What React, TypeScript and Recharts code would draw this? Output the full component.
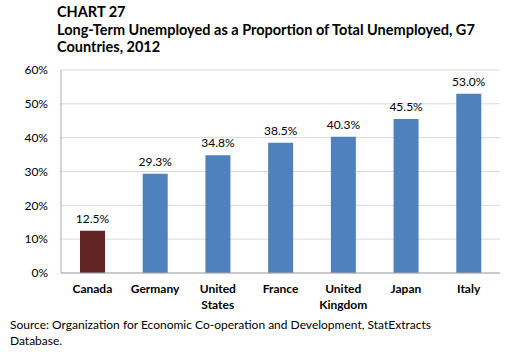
import React from "react";
import { BarChart, Bar, XAxis, YAxis, CartesianGrid, Cell, LabelList } from "recharts";

const countries = ["Canada", "Germany", "United States", "France", "United Kingdom", "Japan", "Italy"];
const shares = [12.5, 29.3, 34.8, 38.5, 40.3, 45.5, 53.0];
const yTicks = [0, 10, 20, 30, 40, 50, 60];
const highlight = "Canada";

const data = countries.map((c, i) => ({ country: c, value: shares[i] }));

const FONT = "Lato, 'Noto Sans', sans-serif";

const XTick = (props: any) => {
  const { x, y, payload } = props;
  const words: string[] = String(payload.value).split(" ");
  return (
    <text x={x} y={y} textAnchor="middle" fill="#000" fontSize={12} fontFamily={FONT} fontWeight={700}>
      {words.map((w, i) => (
        <tspan key={i} x={x} dy={i === 0 ? 12 : 16}>
          {w}
        </tspan>
      ))}
    </text>
  );
};

export default function App() {
  return (
    <div style={{ position: "absolute", left: 0, top: 0, width: 509, height: 352, background: "#fff", fontFamily: FONT }}>
      <div style={{ position: "absolute", left: 57, top: 3, fontWeight: 700, fontSize: 14.5, lineHeight: "17.5px", color: "#000", width: 450 }}>
        CHART 27
        <br />
        Long-Term Unemployed as a Proportion of Total Unemployed, G7
        <br />
        Countries, 2012
      </div>
      <div style={{ position: "absolute", left: 10, top: 317, fontSize: 12, lineHeight: "16px", color: "#000", width: 495 }}>
        Source: Organization for Economic Co-operation and Development, StatExtracts
        <br />
        Database.
      </div>
      <div style={{ position: "absolute", left: 0, top: 0 }}>
        <BarChart width={509} height={352} data={data} margin={{ top: 70, right: 9, bottom: 0, left: 0 }} barCategoryGap="30%">
          <CartesianGrid vertical={false} stroke="#d9d9d9" />
          <XAxis
            dataKey="country"
            height={79}
            tick={<XTick />}
            tickLine={false}
            axisLine={{ stroke: "#a6a6a6" }}
            interval={0}
          />
          <YAxis
            width={61}
            domain={[0, 60]}
            ticks={yTicks}
            tickFormatter={(v: number) => `${v}%`}
            tickLine={false}
            tickSize={0}
            tickMargin={13}
            axisLine={{ stroke: "#a6a6a6" }}
            tick={{ fill: "#000", fontSize: 12, fontFamily: FONT }}
          />
          <Bar dataKey="value" barSize={25} isAnimationActive={false}>
            {data.map((d) => (
              <Cell key={d.country} fill={d.country === highlight ? "#632523" : "#4f81bd"} />
            ))}
            <LabelList
              dataKey="value"
              position="top"
              offset={8}
              formatter={(v: number) => `${v.toFixed(1)}%`}
              style={{ fill: "#000", fontSize: 12, fontFamily: FONT }}
            />
          </Bar>
        </BarChart>
      </div>
    </div>
  );
}
